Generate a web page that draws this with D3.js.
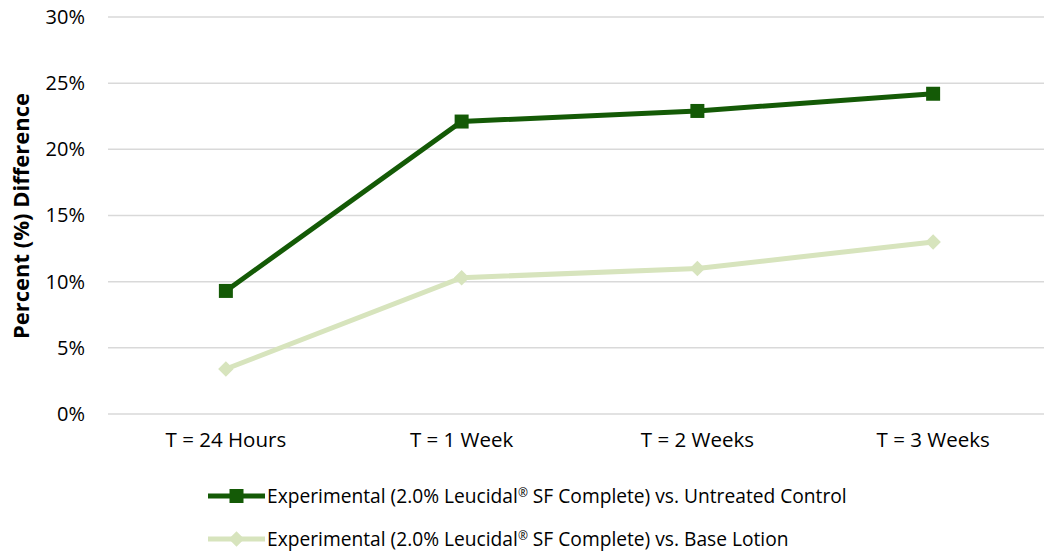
<!DOCTYPE html>
<html>
<head>
<meta charset="utf-8">
<script src="https://d3js.org/d3.v7.min.js"></script>
<style>
  body { margin: 0; background: #fff; }
  text { font-family: "Open Sans", sans-serif; fill: #000; }
</style>
</head>
<body>
<svg id="chart"></svg>
<script>
// data
var categories = ["T = 24 Hours", "T = 1 Week", "T = 2 Weeks", "T = 3 Weeks"];
var untreated = [9.3, 22.1, 22.9, 24.2];
var baseLotion = [3.4, 10.3, 11.0, 13.0];
var yTicks = [0, 5, 10, 15, 20, 25, 30];
// legend labels, split around the registered mark so it can be set as a superscript
var seriesNames = [
  ["Experimental (2.0% Leucidal", "\u00ae", " SF Complete) vs. Untreated Control"],
  ["Experimental (2.0% Leucidal", "\u00ae", " SF Complete) vs. Base Lotion"]
];

var W = 1044, H = 552;
var svg = d3.select("#chart").attr("width", W).attr("height", H);

var x = d3.scaleBand().domain(categories).range([108, 1051]);
var y = d3.scaleLinear().domain([0, 30]).range([414, 17]);

// gridlines
svg.append("g").selectAll("line")
  .data(yTicks).enter().append("line")
  .attr("x1", 108).attr("x2", 1051)
  .attr("y1", d => y(d)).attr("y2", d => y(d))
  .attr("stroke", "#d9d9d9").attr("stroke-width", 1.5);

// y axis labels
var yAxis = svg.append("g")
  .attr("transform", "translate(108,0)")
  .call(d3.axisLeft(y).tickValues(yTicks).tickFormat(d => d + "%").tickSize(0).tickPadding(23));
yAxis.select(".domain").remove();
yAxis.selectAll("text").style("font-size", "20px").style("font-family", "'Open Sans', sans-serif").attr("fill", "#000");

// x axis labels
var xAxis = svg.append("g")
  .attr("transform", "translate(0,414)")
  .call(d3.axisBottom(x).tickSize(0).tickPadding(18));
xAxis.select(".domain").remove();
xAxis.selectAll("text").style("font-size", "20.5px").style("font-family", "'Open Sans', sans-serif").attr("fill", "#000");

// y axis title
svg.append("text")
  .attr("transform", "translate(29,216) rotate(-90)")
  .attr("text-anchor", "middle")
  .style("font-size", "22px").style("font-weight", "bold")
  .text("Percent (%) Difference");

var cx = d => x(d) + x.bandwidth() / 2;

var series = [
  { vals: untreated, color: "#145a06", marker: "square" },
  { vals: baseLotion, color: "#d7e4bd", marker: "diamond" }
];

var line = d3.line().x(d => cx(d.c)).y(d => y(d.v));

// draw light series first so the dark one sits on top
series.slice().reverse().forEach(function(s) {
  var pts = categories.map((c, i) => ({ c: c, v: s.vals[i] }));
  svg.append("path").datum(pts)
    .attr("d", line).attr("fill", "none")
    .attr("stroke", s.color).attr("stroke-width", 5);
  svg.append("g").selectAll("path")
    .data(pts).enter().append("path")
    .attr("transform", d => "translate(" + cx(d.c) + "," + y(d.v) + ")" + (s.marker === "diamond" ? " rotate(45)" : ""))
    .attr("d", s.marker === "square" ? "M-7,-7H7V7H-7Z" : "M-5.5,-5.5H5.5V5.5H-5.5Z")
    .attr("fill", s.color);
});

// legend
var legend = svg.append("g");
series.forEach(function(s, i) {
  var ly = 496 + i * 43;
  legend.append("line").attr("x1", 208).attr("x2", 265).attr("y1", ly).attr("y2", ly)
    .attr("stroke", s.color).attr("stroke-width", 5);
  legend.append("path")
    .attr("transform", "translate(236.5," + ly + ")" + (s.marker === "diamond" ? " rotate(45)" : ""))
    .attr("d", s.marker === "square" ? "M-7,-7H7V7H-7Z" : "M-5.5,-5.5H5.5V5.5H-5.5Z")
    .attr("fill", s.color);
  var t = legend.append("text").attr("x", 267).attr("y", ly + 7)
    .style("font-size", "19.2px");
  t.append("tspan").text(seriesNames[i][0]);
  t.append("tspan").attr("dy", -6).style("font-size", "12px").text(seriesNames[i][1]);
  t.append("tspan").attr("dy", 6).text(seriesNames[i][2]);
});
</script>
</body>
</html>
